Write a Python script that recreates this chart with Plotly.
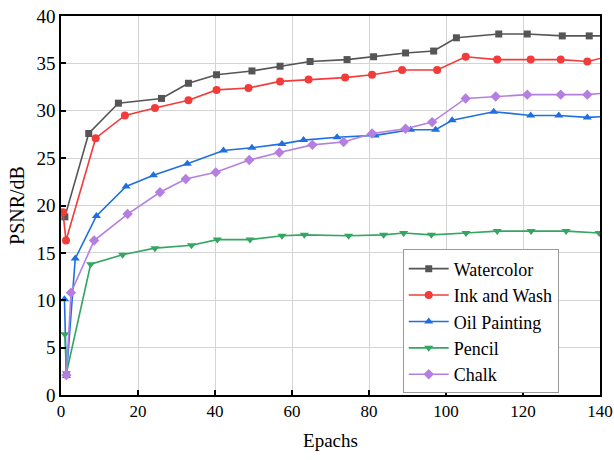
import plotly.graph_objects as go

# ---- data ----
wc_x = [1.0, 7.2, 14.9, 26.1, 33.1, 40.4, 49.6, 56.9, 64.7, 74.3, 81.2, 89.5, 96.8, 102.7, 113.7, 121.1, 130.2, 137.2, 142]
wc_y = [18.8, 27.6, 30.8, 31.3, 32.9, 33.8, 34.2, 34.7, 35.2, 35.4, 35.7, 36.1, 36.3, 37.7, 38.1, 38.1, 37.9, 37.9, 37.9]

ink_x = [0.5, 1.3, 9.0, 16.6, 24.4, 33.1, 40.4, 48.7, 56.9, 64.3, 73.8, 80.8, 88.6, 97.7, 105.1, 113.3, 122.0, 129.8, 136.7, 142]
ink_y = [19.3, 16.3, 27.1, 29.5, 30.3, 31.1, 32.2, 32.4, 33.1, 33.3, 33.5, 33.8, 34.3, 34.3, 35.7, 35.4, 35.4, 35.4, 35.2, 35.7]

oil_x = [0.9, 1.4, 3.7, 9.2, 16.9, 24.0, 32.8, 42.2, 49.6, 57.4, 63.0, 71.7, 81.6, 90.8, 97.3, 101.6, 112.4, 122.0, 129.3, 136.7, 142]
oil_y = [10.1, 2.0, 14.4, 18.9, 22.0, 23.2, 24.4, 25.8, 26.1, 26.5, 26.9, 27.2, 27.4, 28.0, 28.0, 29.0, 29.9, 29.5, 29.5, 29.3, 29.4]

pen_x = [1.0, 1.4, 7.7, 16.0, 24.4, 33.9, 40.6, 49.1, 57.4, 63.2, 74.7, 83.8, 89.0, 96.2, 105.2, 113.3, 122.1, 131.2, 139.8, 143]
pen_y = [6.4, 2.3, 13.8, 14.8, 15.5, 15.8, 16.4, 16.4, 16.8, 16.9, 16.8, 16.9, 17.1, 16.9, 17.1, 17.3, 17.3, 17.3, 17.1, 17.1]

chk_x = [1.4, 2.6, 8.6, 17.3, 25.7, 32.4, 40.2, 48.9, 56.7, 65.3, 73.4, 80.8, 89.5, 96.4, 105.1, 112.9, 121.1, 129.8, 136.7, 142]
chk_y = [2.1, 10.8, 16.3, 19.1, 21.4, 22.8, 23.5, 24.8, 25.6, 26.4, 26.7, 27.6, 28.1, 28.8, 31.3, 31.5, 31.7, 31.7, 31.7, 31.9]

series = [
    ("Watercolor", wc_x, wc_y, "#555555", "square", 7),
    ("Ink and Wash", ink_x, ink_y, "#F23B3B", "circle", 8),
    ("Oil Painting", oil_x, oil_y, "#1F6FE0", "triangle-up", 8),
    ("Pencil", pen_x, pen_y, "#33A661", "triangle-down", 8),
    ("Chalk", chk_x, chk_y, "#B47FE0", "diamond", 8),
]

x_ticks = [0, 20, 40, 60, 80, 100, 120, 140]
y_ticks = [0, 5, 10, 15, 20, 25, 30, 35, 40]

fig = go.Figure()
for name, xs, ys, col, sym, sz in series:
    fig.add_trace(go.Scatter(
        x=xs, y=ys, name=name, mode="lines+markers",
        line=dict(color=col, width=1.6),
        marker=dict(symbol=sym, size=sz, color=col),
    ))

font_family = "Liberation Serif"
fig.update_layout(
    width=614, height=460,
    margin=dict(l=61, r=14, t=16, b=65),
    paper_bgcolor="white", plot_bgcolor="white",
    font=dict(family=font_family, size=18, color="black"),
    showlegend=True,
    legend=dict(
        x=0.634, y=0.194, xanchor="left", yanchor="middle",
        bgcolor="white", bordercolor="#999999", borderwidth=1,
        font=dict(family=font_family, size=18, color="black"),
        tracegroupgap=0, itemwidth=40,
    ),
    xaxis=dict(
        range=[0, 140], tickvals=x_ticks, ticks="inside", ticklen=5, tickwidth=1.5,
        tickcolor="black", showline=True, linecolor="black", linewidth=1.5, mirror=True,
        showgrid=True, gridcolor="#d4d4d4", gridwidth=1, zeroline=False,
        title=dict(text="Epachs", font=dict(size=19), standoff=14),
        tickfont=dict(size=17), automargin=False,
    ),
    yaxis=dict(
        range=[0, 40], tickvals=y_ticks, ticks="inside", ticklen=5, tickwidth=1.5,
        tickcolor="black", showline=True, linecolor="black", linewidth=1.5, mirror=True,
        showgrid=True, gridcolor="#d4d4d4", gridwidth=1, zeroline=False,
        title=dict(text="PSNR/dB", font=dict(size=20), standoff=6),
        tickfont=dict(size=19), automargin=False,
    ),
)

fig.write_html(
    "out.html",
    config={"displayModeBar": False},
    post_script="document.body.style.margin='0';document.body.style.overflow='hidden';",
)
